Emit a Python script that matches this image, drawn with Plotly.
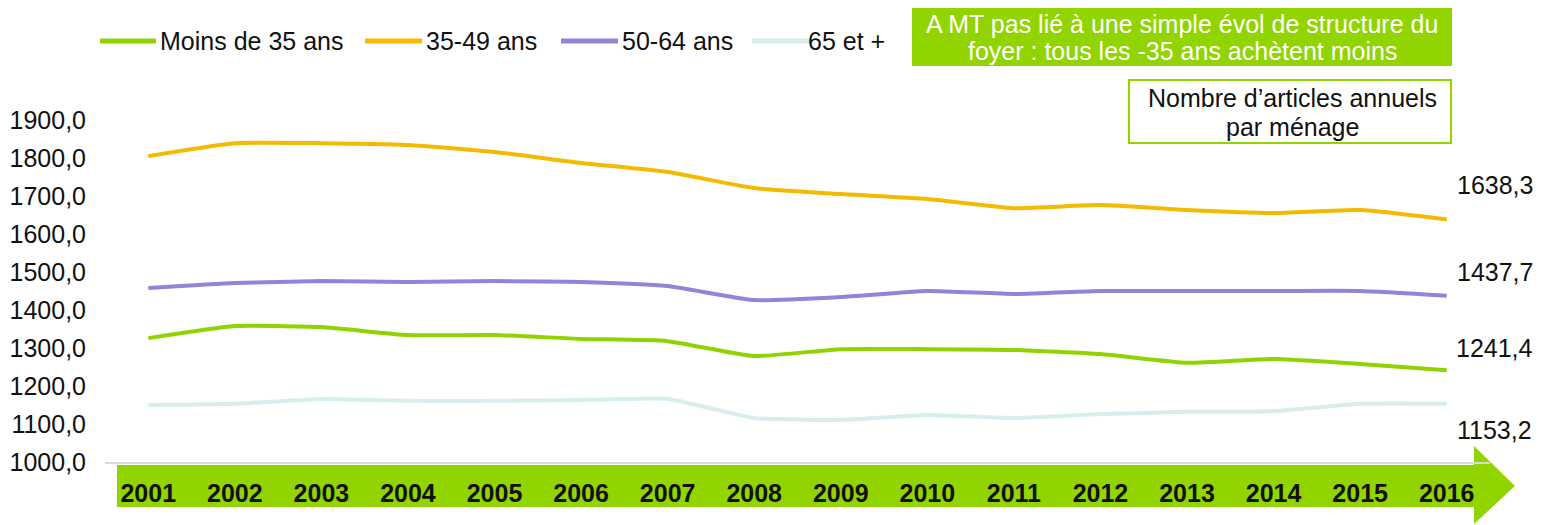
import plotly.graph_objects as go

years = ["2001", "2002", "2003", "2004", "2005", "2006", "2007", "2008",
         "2009", "2010", "2011", "2012", "2013", "2014", "2015", "2016"]
moins35 = [1326, 1358, 1355, 1334, 1334, 1324, 1318, 1279, 1297, 1297, 1295, 1284, 1261, 1271, 1258, 1241.4]
a35_49 = [1805, 1839, 1839, 1834, 1816, 1787, 1763, 1721, 1705, 1692, 1668, 1676, 1663, 1655, 1663, 1638.3]
a50_64 = [1458, 1471, 1476, 1474, 1476, 1474, 1463, 1426, 1434, 1450, 1442, 1450, 1450, 1450, 1450, 1437.7]
a65 = [1150, 1153, 1166, 1161, 1161, 1163, 1166, 1116, 1111, 1124, 1116, 1126, 1132, 1134, 1153, 1153.2]

series = [
    ("Moins de 35 ans", moins35, "#8FD400"),
    ("35-49 ans", a35_49, "#F5B900"),
    ("50-64 ans", a50_64, "#8E86D6"),
    ("65 et +", a65, "#D8EDED"),
]
end_label_shift = {"Moins de 35 ans": 22, "35-49 ans": 34, "50-64 ans": 24, "65 et +": -26}

# page geometry (page pixels); body margin of 8px offsets the figure
PAGE_W, PAGE_H, OFF = 1541, 525, 8
W, H = PAGE_W - OFF, PAGE_H - OFF
L, R, T, B = 105, 1490, 82, 462   # plot area in page pixels
FONT = "Liberation Sans, Arial, sans-serif"
FS = 25


def px(x):
    return (x - L) / (R - L)


def py(y):
    return (B - y) / (B - T)


fig = go.Figure()
for name, vals, col in series:
    fig.add_trace(go.Scatter(x=years, y=vals, name=name, mode="lines",
                             line=dict(color=col, width=4, shape="spline", smoothing=0.5),
                             showlegend=False))

shapes = []
annotations = []

# green arrow band behind year labels
shapes.append(dict(type="path", xref="paper", yref="paper", layer="below",
                   path=f"M {px(117)} {py(465)} L {px(1474)} {py(465)} L {px(1474)} {py(446)} "
                        f"L {px(1515)} {py(486)} L {px(1474)} {py(524)} L {px(1474)} {py(507)} "
                        f"L {px(117)} {py(507)} Z",
                   fillcolor="#92D400", line=dict(width=0)))

# custom legend
legend_items = [(100, 156, 158), (365, 422, 424), (561, 618, 620), (752, 810, 806)]
for (x0, x1, tx), (name, vals, col) in zip(legend_items, series):
    shapes.append(dict(type="line", xref="paper", yref="paper",
                       x0=px(x0), x1=px(x1), y0=py(41), y1=py(41),
                       line=dict(color=col, width=5)))
    annotations.append(dict(xref="paper", yref="paper", x=px(tx), y=py(41),
                            xanchor="left", yanchor="middle", text=name, showarrow=False,
                            font=dict(family=FONT, size=FS, color="#111111")))

# green title box
shapes.append(dict(type="rect", xref="paper", yref="paper",
                   x0=px(912), x1=px(1452), y0=py(66), y1=py(4),
                   fillcolor="#92D400", line=dict(width=0)))
for txt, yy in [("A MT pas lié à une simple évol de structure du", 24),
                ("foyer : tous les -35 ans achètent moins", 51)]:
    annotations.append(dict(xref="paper", yref="paper", x=px(1182), y=py(yy),
                            xanchor="center", yanchor="middle", showarrow=False, text=txt,
                            font=dict(family=FONT, size=FS, color="white")))

# white box with green border
shapes.append(dict(type="rect", xref="paper", yref="paper",
                   x0=px(1129), x1=px(1451), y0=py(143), y1=py(80),
                   fillcolor="white", line=dict(color="#92D400", width=2)))
for txt, yy in [("Nombre d’articles annuels", 98), ("par ménage", 127)]:
    annotations.append(dict(xref="paper", yref="paper", x=px(1292), y=py(yy),
                            xanchor="center", yanchor="middle", showarrow=False, text=txt,
                            font=dict(family=FONT, size=FS, color="#111111")))

# end value labels
last = len(years) - 1
for name, vals, col in series:
    annotations.append(dict(x=last, y=vals[-1], xref="x", yref="y",
                            text=f"{vals[-1]:.1f}".replace(".", ","), showarrow=False,
                            xshift=48, yshift=end_label_shift[name],
                            font=dict(family=FONT, size=FS, color="#111111")))

fig.update_layout(
    width=W, height=H,
    margin=dict(l=L - OFF, r=PAGE_W - R, t=T - OFF, b=PAGE_H - B),
    paper_bgcolor="white", plot_bgcolor="rgba(0,0,0,0)",
    separators=", ",
    shapes=shapes, annotations=annotations,
    showlegend=False,
)
fig.update_xaxes(type="category", range=[-0.5, 15.5], showgrid=False, zeroline=False,
                 showline=True, linecolor="#D9D9D9", linewidth=2, automargin=False,
                 tickfont=dict(family=FONT, size=FS, color="#111111", weight="bold"),
                 ticks="", ticklabelstandoff=8)
fig.update_yaxes(range=[1000, 2000], tickvals=[1000, 1100, 1200, 1300, 1400, 1500, 1600, 1700, 1800, 1900],
                 tickformat=".1f", showgrid=False, zeroline=False, showline=False, automargin=False,
                 tickfont=dict(family=FONT, size=FS, color="#111111"), ticks="",
                 ticklabelstandoff=18)

fig.write_html("out.html")
